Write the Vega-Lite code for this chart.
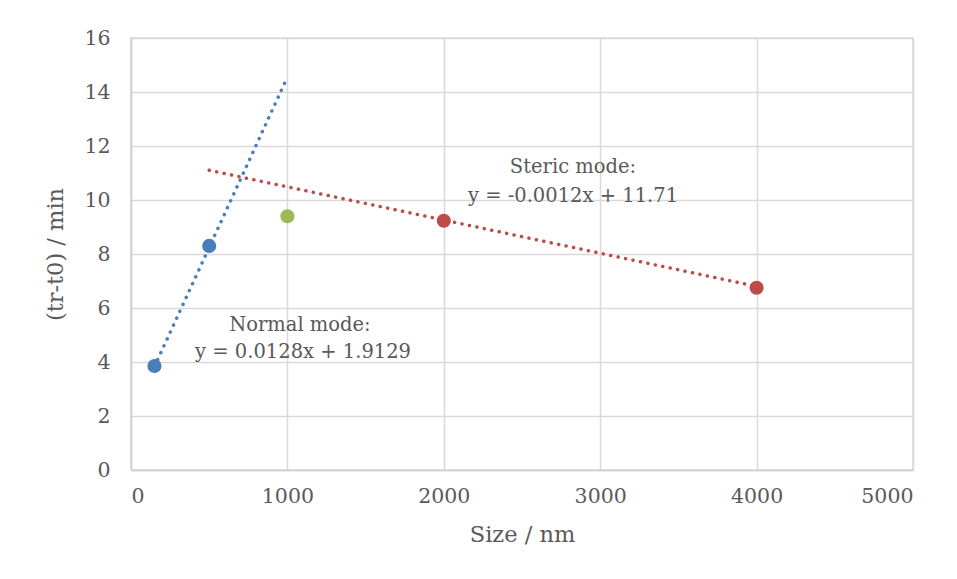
{
  "$schema": "https://vega.github.io/schema/vega-lite/v6.json",
  "autosize": "none",
  "width": 782,
  "height": 432,
  "padding": {"left": 131, "top": 38, "right": 44, "bottom": 109},
  "background": "white",
  "config": {
    "font": "DejaVu Serif",
    "view": {"stroke": "#d9d9d9", "strokeWidth": 1.5},
    "axis": {
      "gridColor": "#d9d9d9", "gridWidth": 1.5, "domainColor": "#d0d0d0", "domainWidth": 1.5,
      "ticks": false, "labelColor": "#595959", "titleColor": "#595959",
      "labelFontSize": 20.5, "titleFontSize": 22.5, "titleFontWeight": "normal", "labelFont": "DejaVu Serif", "titleFont": "DejaVu Serif"
    }
  },
  "datasets": {
    "pts": [
      {"x": 150, "y": 3.85, "s": "normal"},
      {"x": 500, "y": 8.3, "s": "normal"},
      {"x": 1000, "y": 9.4, "s": "mid"},
      {"x": 2000, "y": 9.23, "s": "steric"},
      {"x": 4000, "y": 6.75, "s": "steric"}
    ],
    "trend": [
      {"x": 150, "y": 3.83, "s": "normal"},
      {"x": 1000, "y": 14.55, "s": "normal"},
      {"x": 500, "y": 11.1, "s": "steric"},
      {"x": 4000, "y": 6.8, "s": "steric"}
    ],
    "labels": [
      {"x": 1080, "y": 5.37, "t": "Normal mode:"},
      {"x": 1100, "y": 4.37, "t": "y = 0.0128x + 1.9129"},
      {"x": 2826, "y": 11.22, "t": "Steric mode:"},
      {"x": 2826, "y": 10.15, "t": "y = -0.0012x + 11.71"}
    ]
  },
  "encoding": {
    "x": {"field": "x", "type": "quantitative", "scale": {"domain": [0, 5000]},
      "axis": {"title": "Size / nm", "values": [0,1000,2000,3000,4000,5000], "format": "d", "labelOverlap": false, "labelPadding": 16, "titlePadding": 17}},
    "y": {"field": "y", "type": "quantitative", "scale": {"domain": [0, 16]},
      "axis": {"title": "(tr-t0) / min", "values": [0,2,4,6,8,10,12,14,16], "format": "d", "labelOverlap": false, "labelPadding": 21, "titlePadding": 16}}
  },
  "layer": [
    {
      "data": {"name": "trend"},
      "mark": {"type": "line", "strokeDash": [0.1, 7.5], "strokeCap": "round", "strokeWidth": 3.5},
      "encoding": {
        "detail": {"field": "s"},
        "color": {"field": "s", "type": "nominal", "scale": {"domain": ["normal", "mid", "steric"], "range": ["#4a7ebb", "#9bbb59", "#be4b48"]}, "legend": null}
      }
    },
    {
      "data": {"name": "pts"},
      "mark": {"type": "circle", "size": 200, "opacity": 1},
      "encoding": {
        "color": {"field": "s", "type": "nominal", "legend": null}
      }
    },
    {
      "data": {"name": "labels"},
      "mark": {"type": "text", "fontSize": 19.5, "color": "#595959", "align": "center", "baseline": "middle", "font": "DejaVu Serif"},
      "encoding": {
        "text": {"field": "t"}
      }
    }
  ]
}
